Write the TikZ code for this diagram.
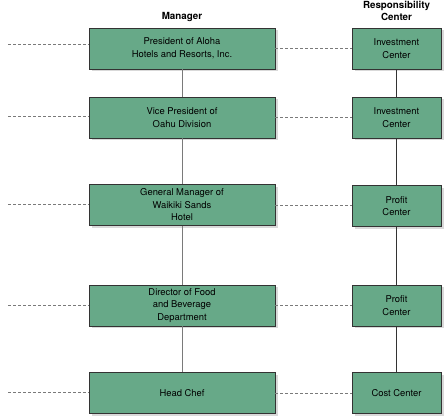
\documentclass[tikz,border=0pt]{standalone}
\usepackage{fontspec}
\setmainfont{TeX Gyre Heros}
\usetikzlibrary{shadows}
\definecolor{boxfill}{HTML}{67A988}
\definecolor{edge}{HTML}{333333}
\definecolor{gline}{HTML}{7A7A7A}
\tikzset{
  unit/.style={draw=edge, fill=boxfill, line width=0.9pt, align=center, inner sep=0pt,
    font=\fontsize{9.4}{12.5}\selectfont,
    drop shadow={shadow xshift=2.5pt, shadow yshift=-2.5pt, fill=black!15, opacity=1}},
  mgr/.style={unit, minimum width=186pt, minimum height=41pt},
  ctr/.style={unit, minimum width=89pt, minimum height=41pt},
  head/.style={font=\bfseries\fontsize{9.8}{12}\selectfont, align=center},
  link/.style={draw=gline, line width=1pt},
  linkd/.style={draw=edge, line width=0.8pt},
  dashln/.style={draw=gline, line width=0.8pt, dash pattern=on 3pt off 2pt},
}
\begin{document}
\begin{tikzpicture}[x=1pt, y=-1pt]
\useasboundingbox (0,0) rectangle (445,419);
% column heads
\node[head] (hmgr) at (182,17) {Manager};
\node[head] (hctr) at (396.5,11) {Responsibility\\Center};

% managers
\node[mgr] (m1) at (182,48.5) {President of Aloha\\Hotels and Resorts, Inc.};
\node[mgr] (m2) at (182,117.5) {Vice President of\\Oahu Division};
\node[mgr] (m3) at (182,205) {General Manager of\\Waikiki Sands\\Hotel};
\node[mgr] (m4) at (182,305.5) {Director of Food\\and Beverage\\Department};
\node[mgr] (m5) at (182,393.3) {Head Chef};

% responsibility centers
\node[ctr] (r1) at (396.5,48.5) {Investment\\Center};
\node[ctr] (r2) at (396.5,117.5) {Investment\\Center};
\node[ctr] (r3) at (396.5,206) {Profit\\Center};
\node[ctr] (r4) at (396.5,305.5) {Profit\\Center};
\node[ctr] (r5) at (396.5,393.3) {Cost Center};

% reporting lines
\foreach \i/\j in {1/2,2/3,3/4,4/5}{
  \draw[link] (m\i) -- (m\j);
  \draw[linkd] (r\i) -- (r\j);
}
% dashed ties
\foreach \i/\y in {1/44,2/116.7,3/204.3,4/305,5/392.3}{
  \coordinate (l\i) at (8,\y);
  \draw[dashln] (l\i) -- (l\i -| m\i.west);
  \draw[dashln] (m\i.east) -- (m\i.east -| r\i.west);
}
\end{tikzpicture}
\end{document}
